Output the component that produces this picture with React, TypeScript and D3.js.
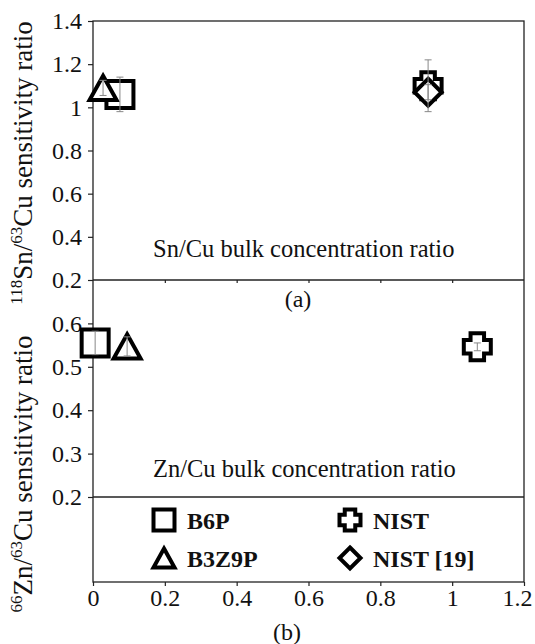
import * as d3 from "d3";
import { useEffect, useRef } from "react";

// axis ticks
const xTicks = [0, 0.2, 0.4, 0.6, 0.8, 1, 1.2];
const snTicks = [0.2, 0.4, 0.6, 0.8, 1, 1.2, 1.4];
const znTicks = [0.2, 0.3, 0.4, 0.5, 0.6];

// series
const seriesNames = ["B6P", "B3Z9P", "NIST", "NIST [19]"];
const seriesSymbols = ["square", "triangle", "cross", "diamond"];

// panel (a) Sn/Cu
const snX = [0.075, 0.028, 0.933, 0.933];
const snY = [1.06, 1.09, 1.1, 1.07];
const snErr = [0.08, 0.035, 0.12, 0.035];

// panel (b) Zn/Cu
const znX = [0.006, 0.095, 1.07];
const znY = [0.555, 0.547, 0.546];
const znErr = [0.027, 0.022, 0.009];

const W = 535;
const H = 644;
const FONT = "Liberation Serif, Times New Roman, DejaVu Serif, serif";

function symbolPath(kind: string, h: number) {
  if (kind === "square") return `M${-h},${-h}H${h}V${h}H${-h}Z`;
  if (kind === "triangle") return `M0,${-h * 0.9}L${h},${h * 0.9}H${-h}Z`;
  if (kind === "diamond") return `M0,${-h}L${h},0L0,${h}L${-h},0Z`;
  const a = h * 0.5;
  return `M${-a},${-h}H${a}V${-a}H${h}V${a}H${a}V${h}H${-a}V${a}H${-h}V${-a}H${-a}Z`;
}

export default function App() {
  const ref = useRef<SVGSVGElement | null>(null);

  useEffect(() => {
    const el = ref.current;
    if (!el) return;
    const svg = d3.select<SVGSVGElement, unknown>(el);
    svg.selectAll("*").remove();

    const left = 93;
    const right = 524;
    const top = 21;
    const midA = 280;
    const midB = 497;
    const bottom = 582;

    const x = d3.scaleLinear().domain([0, 1.2]).range([left, right]);
    const ySn = d3.scaleLinear().domain([0.2, 1.4]).range([midA, top]);
    const yZn = d3.scaleLinear().domain([0.2, 0.7]).range([midB, midA]);

    svg.attr("viewBox", `0 0 ${W} ${H}`);
    svg.append("rect").attr("width", W).attr("height", H).attr("fill", "white");

    const styleAxis = (g: d3.Selection<SVGGElement, unknown, null, undefined>) => {
      g.attr("font-family", null);
      g.select(".domain").remove();
      g.selectAll("line").attr("stroke", "#222").attr("stroke-width", 1.2);
      g.selectAll("text")
        .attr("fill", "#111")
        .attr("font-size", 24)
        .style("font-family", FONT);
    };
    const fmt = (d: d3.NumberValue) => String(+d);

    svg
      .append("g")
      .attr("transform", `translate(${left},0)`)
      .call(d3.axisLeft(ySn).tickValues(snTicks).tickSize(5).tickPadding(6).tickFormat(fmt))
      .call(styleAxis);

    svg
      .append("g")
      .attr("transform", `translate(${left},0)`)
      .call(d3.axisLeft(yZn).tickValues(znTicks).tickSize(5).tickPadding(6).tickFormat(fmt))
      .call(styleAxis);

    svg
      .append("g")
      .attr("transform", `translate(0,${bottom})`)
      .call(d3.axisBottom(x).tickValues(xTicks).tickSize(4).tickPadding(3).tickFormat(fmt))
      .call(styleAxis)
      // keep the last label inside the page, as in the original
      .call((g) =>
        g
          .selectAll<SVGTextElement, number>("text")
          .filter((d) => d === xTicks[xTicks.length - 1])
          .attr("dx", -7)
      );

    // small ticks under panel (a)
    svg
      .append("g")
      .attr("transform", `translate(0,${midA})`)
      .call(d3.axisBottom(x).tickValues(xTicks.slice(1, -1)).tickSize(3).tickFormat(() => ""))
      .call(styleAxis);

    // frame and separators
    svg
      .append("rect")
      .attr("x", left)
      .attr("y", top)
      .attr("width", right - left)
      .attr("height", bottom - top)
      .attr("fill", "none")
      .attr("stroke", "#222")
      .attr("stroke-width", 1.3);
    [midA, midB].forEach((yy) =>
      svg
        .append("line")
        .attr("x1", left)
        .attr("x2", right)
        .attr("y1", yy)
        .attr("y2", yy)
        .attr("stroke", "#222")
        .attr("stroke-width", 1.3)
    );

    // markers + error bars
    const drawPanel = (
      xs: number[],
      ys: number[],
      errs: number[],
      y: d3.ScaleLinear<number, number>
    ) => {
      xs.forEach((xv, i) => {
        svg
          .append("path")
          .attr("d", symbolPath(seriesSymbols[i], 13.5))
          .attr("transform", `translate(${x(xv)},${y(ys[i])})`)
          .attr("fill", "white")
          .attr("stroke", "black")
          .attr("stroke-width", 4)
          .attr("stroke-linejoin", "miter");
      });
      xs.forEach((xv, i) => {
        const cx = x(xv);
        const y1 = y(ys[i] + errs[i]);
        const y2 = y(ys[i] - errs[i]);
        const g = svg.append("g").attr("stroke", "#888").attr("stroke-width", 1);
        g.append("line").attr("x1", cx).attr("x2", cx).attr("y1", y1).attr("y2", y2);
        [y1, y2].forEach((yy) =>
          g.append("line").attr("x1", cx - 3.5).attr("x2", cx + 3.5).attr("y1", yy).attr("y2", yy)
        );
      });
    };
    drawPanel(snX, snY, snErr, ySn);
    drawPanel(znX, znY, znErr, yZn);

    const label = (tx: number, ty: number, s: string, anchor = "start", size = 24) =>
      svg
        .append("text")
        .attr("x", tx)
        .attr("y", ty)
        .attr("text-anchor", anchor)
        .attr("font-size", size)
        .attr("fill", "#111")
        .style("font-family", FONT)
        .text(s);

    // inner labels
    label(153, 257, "Sn/Cu bulk concentration ratio", "start", 24.5);
    label(153, 477, "Zn/Cu bulk concentration ratio", "start", 24.5);
    label(298, 307, "(a)", "middle");
    label(287, 640, "(b)", "middle");

    // y titles with superscripts
    const yTitle = (cy: number, parts: [string, boolean][]) => {
      const t = svg
        .append("text")
        .attr("transform", `translate(32,${cy}) rotate(-90)`)
        .attr("text-anchor", "middle")
        .attr("font-size", 27)
        .attr("fill", "#111")
        .style("font-family", FONT);
      let up = false;
      parts.forEach(([s, sup]) => {
        const span = t.append("tspan").text(s);
        if (sup && !up) span.attr("dy", -10).attr("font-size", 17);
        else if (sup) span.attr("font-size", 17);
        else if (!sup && up) span.attr("dy", 10);
        up = sup;
      });
    };
    yTitle(163, [
      ["118", true],
      ["Sn/", false],
      ["63", true],
      ["Cu sensitivity ratio", false],
    ]);
    yTitle(474, [
      ["66", true],
      ["Zn/", false],
      ["63", true],
      ["Cu sensitivity ratio", false],
    ]);

    // legend
    const legX = [164, 350];
    const legY = [520, 558];
    seriesNames.forEach((name, i) => {
      const col = i < 2 ? 0 : 1;
      const row = i % 2;
      svg
        .append("path")
        .attr("d", symbolPath(seriesSymbols[i], 10.5))
        .attr("transform", `translate(${legX[col]},${legY[row]})`)
        .attr("fill", "white")
        .attr("stroke", "black")
        .attr("stroke-width", 4);
      label(legX[col] + 23, legY[row] + 8.5, name, "start", 24).attr("font-weight", "bold");
    });
  }, []);

  return (
    <svg
      ref={ref}
      width={W}
      height={H}
      style={{ position: "absolute", left: 0, top: 0, display: "block" }}
    />
  );
}
